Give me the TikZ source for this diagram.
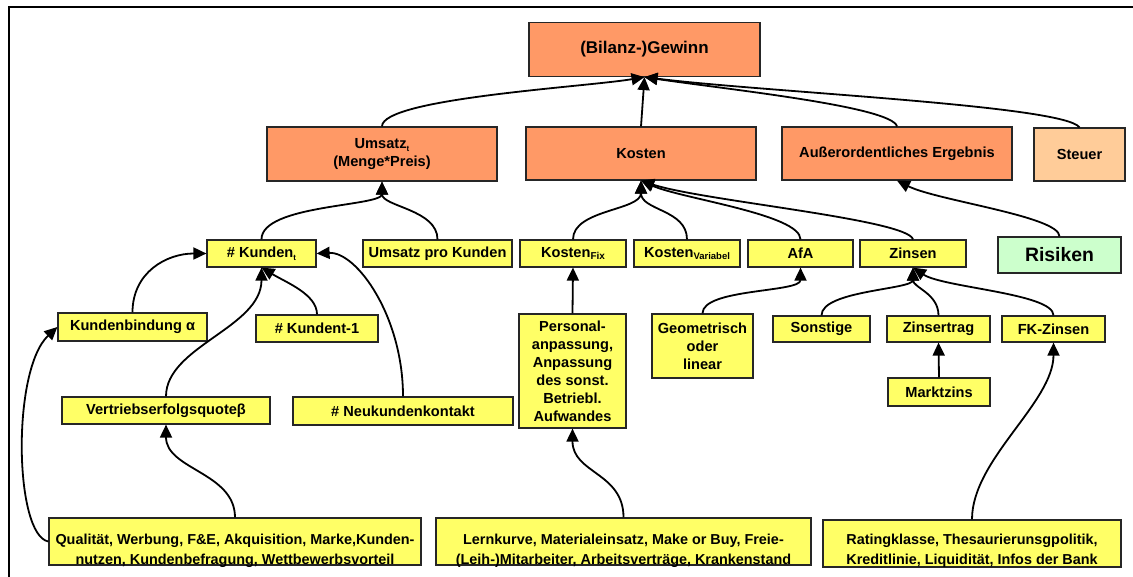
\documentclass[tikz,border=0pt]{standalone}
\usepackage{fontspec}
\setmainfont{Liberation Sans}
\usetikzlibrary{arrows.meta}
\definecolor{orangeC}{HTML}{FF9966}
\definecolor{steuerC}{HTML}{FFCC99}
\definecolor{yellowC}{HTML}{FFFF66}
\definecolor{greenC}{HTML}{CCFFCC}
\newcommand\mysub[2][9]{\raisebox{-0.35ex}{\fontsize{#1}{#1}\selectfont #2}}
\begin{document}
\begin{tikzpicture}[x=1pt,y=-1pt,
  box/.style={draw=black!85, line width=1.2pt, inner sep=0pt, align=center,
    font=\fontsize{14.6}{18}\selectfont\bfseries},
  obox/.style={box, fill=orangeC},
  sbox/.style={box, fill=steuerC},
  ybox/.style={box, fill=yellowC},
  gbox/.style={box, fill=greenC, font=\fontsize{19.4}{22}\selectfont\bfseries},
  btxt/.style={inner sep=0pt, align=center, anchor=south, text depth=0pt,
    font=\fontsize{14.4}{20}\selectfont\bfseries},
  conn/.style={line width=1.8pt, -{Triangle[length=13pt,width=12pt]}}]
\useasboundingbox (0,0) rectangle (1133,577);
\fill[white] (0,0) rectangle (1133,577);
% frame
\draw[line width=2pt] (8.5,577) -- (8.5,7) -- (1133,7);
% top
\node[obox, minimum width=231pt, minimum height=54pt,
  font=\fontsize{17}{20}\selectfont\bfseries] (gewinn) at (644.5,49.5) {(Bilanz-)Gewinn};
% second row
\node[obox, minimum width=230pt, minimum height=54pt] (umsatz) at (382,154)
  {Umsatz\mysub[8]{t}\\(Menge*Preis)};
\node[obox, minimum width=230pt, minimum height=53pt] (kosten) at (641,153.5) {Kosten};
\node[obox, minimum width=230pt, minimum height=53pt] (ausser) at (897,153.5) {Außerordentliches Ergebnis};
\node[sbox, minimum width=91pt, minimum height=53pt] (steuer) at (1079.5,154.5) {Steuer};
% third row
\node[gbox, minimum width=123pt, minimum height=36pt] (risiken) at (1059.5,255) {Risiken};
\node[ybox, minimum width=109pt, minimum height=27pt] (kunden) at (261.5,253.5) {\# Kunden\mysub[8]{t}};
\node[ybox, minimum width=149pt, minimum height=27pt] (upk) at (437.5,253.5) {Umsatz pro Kunden};
\node[ybox, minimum width=106pt, minimum height=27pt] (kfix) at (573,253.5) {Kosten\mysub[10]{Fix}};
\node[ybox, minimum width=106pt, minimum height=27pt] (kvar) at (687,253.5) {Kosten\mysub[9.5]{Variabel}};
\node[ybox, minimum width=105pt, minimum height=27pt] (afa) at (800.5,253.5) {AfA};
\node[ybox, minimum width=106pt, minimum height=27pt] (zinsen) at (913,253.5) {Zinsen};
% fourth row
\node[ybox, minimum width=149pt, minimum height=28pt] (kbind) at (132.5,327) {Kundenbindung α};
\node[ybox, minimum width=122pt, minimum height=27pt] (kt1) at (317,328.5) {\# Kundent-1};
\node[ybox, minimum width=107pt, minimum height=114pt] (personal) at (572.5,371)
  {Personal-\\anpassung,\\Anpassung\\des sonst.\\Betriebl.\\Aufwandes};
\node[ybox, minimum width=101pt, minimum height=64pt] (geom) at (702.5,346) {Geometrisch\\oder\\linear};
\node[ybox, minimum width=97pt, minimum height=26pt] (sonst) at (821.5,329) {Sonstige};
\node[ybox, minimum width=103pt, minimum height=26pt] (zertrag) at (938.5,329) {Zinsertrag};
\node[ybox, minimum width=103pt, minimum height=26pt] (fkz) at (1053.5,329) {FK-Zinsen};
\node[ybox, minimum width=102pt, minimum height=28pt] (markt) at (939,392) {Marktzins};
\node[ybox, minimum width=208pt, minimum height=27pt] (vert) at (166,410.5) {Vertriebserfolgsquoteβ};
\node[ybox, minimum width=220pt, minimum height=28pt] (neuk) at (403,411) {\# Neukundenkontakt};
% bottom
\node[ybox, minimum width=372pt, minimum height=47pt] (qual) at (235,541.5) {};
\node[ybox, minimum width=375pt, minimum height=47pt] (lern) at (623.5,541.5) {};
\node[ybox, minimum width=298pt, minimum height=47pt] (rating) at (972,543.5) {};
\node[btxt] (qualtxt) at ([yshift=1pt]qual.south)
  {Qualität, Werbung, F\&E, Akquisition, Marke,Kunden-\\nutzen, Kundenbefragung, Wettbewerbsvorteil};
\node[btxt] (lerntxt) at ([yshift=1pt]lern.south)
  {Lernkurve, Materialeinsatz, Make or Buy, Freie-\\(Leih-)Mitarbeiter, Arbeitsverträge, Krankenstand};
\node[btxt] (ratingtxt) at ([yshift=3pt]rating.south)
  {Ratingklasse, Thesaurierunsgpolitik,\\Kreditlinie, Liquidität, Infos der Bank};
% connectors to Gewinn
\draw[conn] (umsatz.north) .. controls +(0,-28) and +(-60,10) .. (gewinn.south);
\draw[conn] (kosten.north) -- (gewinn.south);
\draw[conn] (ausser.north) .. controls +(-5,-20) and +(80,12) .. (gewinn.south);
\draw[conn] (steuer.north) .. controls +(-15,-22) and +(120,15) .. (gewinn.south);
% to Umsatz
\draw[conn] (kunden.north) .. controls +(0,-35) and +(0,25) .. (umsatz.south);
\draw[conn] (upk.north) .. controls +(0,-30) and +(0,25) .. (umsatz.south);
% to Kosten
\draw[conn] (kfix.north) .. controls +(0,-30) and +(0,30) .. (kosten.south);
\draw[conn] (kvar.north) .. controls +(0,-30) and +(0,30) .. (kosten.south);
\draw[conn] (afa.north) .. controls +(0,-25) and +(40,18) .. (kosten.south);
\draw[conn] (zinsen.north) .. controls +(-5,-20) and +(60,20) .. (kosten.south);
% Risiken
\draw[conn] (risiken.north) .. controls +(0,-20) and +(40,20) .. (ausser.south);
% to Kunden
\draw[conn] (kbind.north) .. controls +(0,-40) and +(-40,0) .. (kunden.west);
\draw[conn] (kt1.north) .. controls +(0,-20) and +(25,15) .. (kunden.south);
\draw[conn] (vert.north) .. controls +(0,-50) and +(0,60) .. (kunden.south);
\draw[conn] (neuk.north) .. controls +(0,-80) and +(40,-2) .. (kunden.east);
% bottom level
\draw[conn] (qual.west) .. controls +(-34,-6) and +(-46,43) .. (kbind.west);
\draw[conn] (qual.north) .. controls +(0,-45) and +(0,45) .. (vert.south);
\draw[conn] (lern.north) .. controls +(0,-45) and +(0,45) .. (personal.south);
\draw[conn] (personal.north) -- (kfix.south);
\draw[conn] (geom.north) .. controls +(0,-25) and +(0,25) .. (afa.south);
\draw[conn] (sonst.north) .. controls +(0,-25) and +(0,22) .. (zinsen.south);
\draw[conn] (zertrag.north) .. controls +(0,-22) and +(0,20) .. (zinsen.south);
\draw[conn] (fkz.north) .. controls +(0,-22) and +(30,20) .. (zinsen.south);
\draw[conn] (markt.north) -- (zertrag.south);
\draw[conn] (rating.north) .. controls +(0,-60) and +(0,60) .. (fkz.south);
\end{tikzpicture}
\end{document}
